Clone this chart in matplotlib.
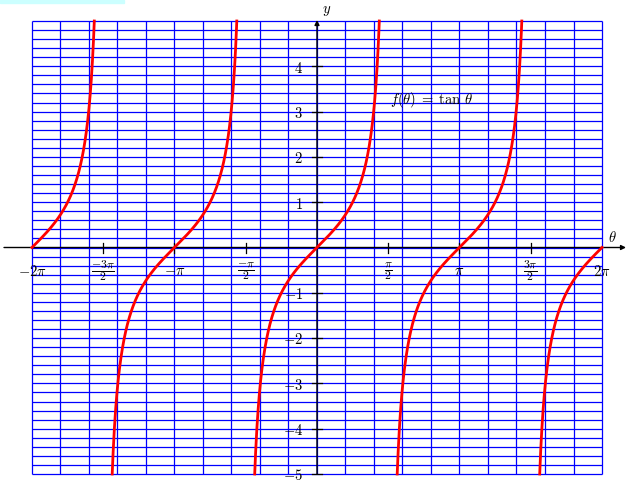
import matplotlib
matplotlib.use("Agg")
import matplotlib.pyplot as plt
import numpy as np

plt.rcParams['mathtext.fontset'] = 'cm'

# data: f(theta) = tan(theta) on [-2pi, 2pi], clipped to |y| <= 5
theta_min, theta_max = -2 * np.pi, 2 * np.pi
y_min, y_max = -5, 5
asymptote_centres = [-2 * np.pi, -np.pi, 0, np.pi, 2 * np.pi]

x_tick_values = [-2 * np.pi, -1.5 * np.pi, -np.pi, -0.5 * np.pi,
                 0.5 * np.pi, np.pi, 1.5 * np.pi, 2 * np.pi]
x_tick_labels = [r'$-2\pi$', r'$\dfrac{-3\pi}{2}$', r'$-\pi$', r'$\dfrac{-\pi}{2}$',
                 r'$\dfrac{\pi}{2}$', r'$\pi$', r'$\dfrac{3\pi}{2}$', r'$2\pi$']
y_tick_values = [-5, -4, -3, -2, -1, 1, 2, 3, 4]
y_tick_labels = ['$-5$', '$-4$', '$-3$', '$-2$', '$-1$', '$1$', '$2$', '$3$', '$4$']

# pixel layout of the reference
W, H = 628, 480
px_left, px_right = 32, 602
py_zero, py_unit = 247.5, 45.3
dx = (theta_max - theta_min) / (px_right - px_left)


def px_x(px):
    return theta_min + (px - px_left) * dx


def px_y(py):
    return (py_zero - py) / py_unit


fig = plt.figure(figsize=(W / 100, H / 100), dpi=100)
ax = fig.add_axes([0, 0, 1, 1])
ax.set_xlim(px_x(0), px_x(W))
ax.set_ylim(px_y(H), px_y(0))
ax.axis('off')

# cyan strip top-left
fig.patches.append(plt.Rectangle((0, 1 - 3 / H), 124 / W, 3 / H,
                                 transform=fig.transFigure, color='#ccffff', zorder=0))

# grid
vx = np.linspace(theta_min, theta_max, 21)
hy = np.linspace(y_min, y_max, 51)
ax.vlines(vx, y_min, y_max, color='#0000ff', lw=0.9, zorder=1)
ax.hlines(hy, theta_min, theta_max, color='#0000ff', lw=0.9, zorder=1)

# axes with arrows
ax.annotate('', xy=(px_x(626), 0), xytext=(px_x(4), 0),
            arrowprops=dict(arrowstyle='-|>', color='black', lw=1.0,
                            mutation_scale=7, shrinkA=0, shrinkB=0), zorder=3)
ax.annotate('', xy=(0, px_y(20)), xytext=(0, y_min),
            arrowprops=dict(arrowstyle='-|>', color='black', lw=1.0,
                            mutation_scale=7, shrinkA=0, shrinkB=0), zorder=3)
ax.text(px_x(612), px_y(238), r'$\theta$', fontsize=10.5, ha='center', va='center')
ax.text(px_x(327), px_y(11), r'$y$', fontsize=10.5, ha='center', va='center')

# ticks and labels
tx = 5 / py_unit
ty = 5 * dx
for v, lab in zip(x_tick_values, x_tick_labels):
    if abs(v) < 2 * np.pi - 0.01:
        ax.plot([v, v], [-tx, tx], color='black', lw=0.9, zorder=3)
    size = 8.5 if 'frac' in lab else 10.5
    ax.text(v, px_y(271), lab, fontsize=size, ha='center', va='center', zorder=4)
for v, lab in zip(y_tick_values, y_tick_labels):
    ax.plot([-ty, ty], [v, v], color='black', lw=0.9, zorder=3)
    ax.text(px_x(303), v - 0.04, lab, fontsize=10.5, ha='right', va='center', zorder=4)

# curve branches
lim = np.arctan(y_max)
for c in asymptote_centres:
    a = max(c - lim, theta_min)
    b = min(c + lim, theta_max)
    t = np.linspace(a, b, 400)
    ax.plot(t, np.tan(t), color='red', lw=2, zorder=5)

ax.text(px_x(390), px_y(100), r'$f(\theta)\;=\;\tan\,\theta$', fontsize=10.5,
        ha='left', va='center', zorder=4)

fig.savefig('out.png', dpi=100)
